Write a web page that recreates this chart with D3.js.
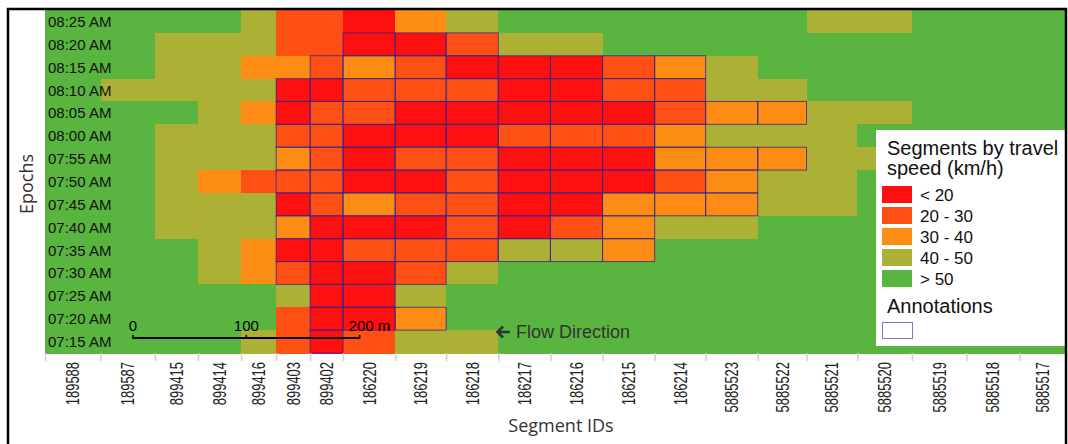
<!DOCTYPE html>
<html>
<head>
<meta charset="utf-8">
<script src="https://cdn.jsdelivr.net/npm/d3@7"></script>
<style>
  html, body { margin: 0; padding: 0; background: #fff; }
  svg { display: block; }
</style>
</head>
<body>
<svg id="chart" width="1068" height="444"></svg>
<script>
// Road segments along the corridor (upstream on the left), with their lengths in metres
const segmentIds = ["189588","189587","899415","899414","899416","899403","899402","186220",
  "186219","186218","186217","186216","186215","186214","5885523","5885522","5885521",
  "5885520","5885519","5885518","5885517"];
const segmentLengths = [49, 48, 38, 38, 31, 30, 29, 46, 45, 46, 46, 46, 46, 45, 46, 43, 45, 48, 48, 47, 41];

// Five-minute epochs, listed from the latest (top row) to the earliest
const epochs = ["08:25 AM","08:20 AM","08:15 AM","08:10 AM","08:05 AM","08:00 AM","07:55 AM",
  "07:50 AM","07:45 AM","07:40 AM","07:35 AM","07:30 AM","07:25 AM","07:20 AM","07:15 AM"];

// Speed bands (index used in the class grid below)
const speedBands = ["< 20", "20 - 30", "30 - 40", "40 - 50", "> 50"];

// Speed band per epoch (rows, same order as epochs) and segment (columns)
const speedClass = [
  [4,4,4,4,3,1,1,0,2,3,4,4,4,4,4,4,3,3,4,4,4],
  [4,4,3,3,3,1,1,0,0,1,3,3,4,4,4,4,4,4,4,4,4],
  [4,4,3,3,2,2,1,2,1,0,0,0,1,2,3,4,4,4,4,4,4],
  [4,3,3,3,3,0,0,1,1,1,0,0,1,1,3,3,4,4,4,4,4],
  [4,4,4,3,2,0,1,1,0,0,0,0,0,1,2,2,3,3,4,4,4],
  [4,4,3,3,3,1,1,0,0,0,1,1,1,2,3,3,3,4,4,4,4],
  [4,4,3,3,3,2,1,0,1,1,0,0,0,2,2,2,3,3,4,4,4],
  [4,4,3,2,1,1,1,0,0,1,0,0,0,1,2,3,3,4,4,4,4],
  [4,4,3,3,3,0,1,2,1,1,0,0,2,2,2,3,3,4,4,4,4],
  [4,4,3,3,3,2,0,0,0,1,0,1,2,3,3,4,4,4,4,4,4],
  [4,4,4,3,2,0,0,1,1,1,3,3,2,4,4,4,4,4,4,4,4],
  [4,4,4,3,2,1,0,0,1,3,4,4,4,4,4,4,4,4,4,4,4],
  [4,4,4,4,4,3,0,0,3,4,4,4,4,4,4,4,4,4,4,4,4],
  [4,4,4,4,4,1,0,0,2,4,4,4,4,4,4,4,4,4,4,4,4],
  [4,4,4,4,3,1,0,1,3,3,4,4,4,4,4,4,4,4,4,4,4]
];

// Annotated congestion cells: [epoch, first segment, last segment]
const annotations = [
  ["08:20 AM", "186220", "186218"],
  ["08:15 AM", "899402", "186214"],
  ["08:10 AM", "899403", "186214"],
  ["08:05 AM", "899403", "5885522"],
  ["08:00 AM", "899403", "186214"],
  ["07:55 AM", "899403", "5885522"],
  ["07:50 AM", "899403", "5885523"],
  ["07:45 AM", "899403", "5885523"],
  ["07:40 AM", "899403", "186215"],
  ["07:35 AM", "899403", "186215"],
  ["07:30 AM", "899403", "186219"],
  ["07:25 AM", "899402", "186220"],
  ["07:20 AM", "899402", "186219"],
  ["07:15 AM", "899402", "899402"]
];

// Scale bar ticks (metres)
const scaleBarTicks = [0, 100, 200];

const bandColors = ["#fe0f10", "#fe4f14", "#fd8c15", "#acb035", "#5ab440"];
const annotationStroke = "#35248e";

const svg = d3.select("#chart");
const plot = { left: 45, right: 1066, top: 10, bottom: 353 };

// Cumulative distance along the corridor drives the column positions
const edges = [0, ...d3.cumsum(segmentLengths)];
const total = edges[edges.length - 1];
const x = d3.scaleLinear().domain([0, total]).range([plot.left, plot.right]);
const y = d3.scaleBand().domain(epochs).range([plot.top, plot.bottom]);
const color = d3.scaleOrdinal().domain(d3.range(speedBands.length)).range(bandColors);

const cells = [];
epochs.forEach((ep, r) => {
  segmentIds.forEach((id, c) => {
    cells.push({ ep, c, band: speedClass[r][c] });
  });
});

// Heatmap cells
svg.append("g")
  .selectAll("rect")
  .data(cells)
  .join("rect")
  .attr("x", d => x(edges[d.c]))
  .attr("y", d => y(d.ep))
  .attr("width", d => x(edges[d.c + 1]) - x(edges[d.c]) + 0.5)
  .attr("height", y.bandwidth() + 0.5)
  .attr("fill", d => color(d.band))
  .attr("shape-rendering", "crispEdges");

// Annotation outlines
const annotatedCells = [];
annotations.forEach(([ep, a, b]) => {
  const i0 = segmentIds.indexOf(a), i1 = segmentIds.indexOf(b);
  for (let c = i0; c <= i1; c++) annotatedCells.push({ ep, c });
});
svg.append("g")
  .selectAll("rect")
  .data(annotatedCells)
  .join("rect")
  .attr("x", d => x(edges[d.c]))
  .attr("y", d => y(d.ep))
  .attr("width", d => x(edges[d.c + 1]) - x(edges[d.c]))
  .attr("height", y.bandwidth())
  .attr("fill", "none")
  .attr("stroke", annotationStroke)
  .attr("stroke-opacity", 0.8)
  .attr("stroke-width", 1);

// Epoch labels drawn inside the heatmap
svg.append("g")
  .selectAll("text")
  .data(epochs)
  .join("text")
  .attr("x", plot.left + 3)
  .attr("y", d => y(d) + y.bandwidth() / 2 + 5.5)
  .attr("font-family", "Liberation Sans, Arial, sans-serif")
  .attr("font-size", 15)
  .attr("fill", "#111")
  .text(d => d);

// Segment axis: ticks at segment boundaries, ids at segment centres
const xAxis = d3.axisBottom(x).tickValues(edges).tickFormat("").tickSize(8).tickSizeOuter(0);
const gx = svg.append("g").attr("transform", `translate(0,${plot.bottom})`).call(xAxis);
gx.select(".domain").remove();
gx.selectAll(".tick line").attr("stroke", "#cfcfcf").attr("stroke-width", 1.5);

svg.append("g")
  .selectAll("text")
  .data(segmentIds)
  .join("text")
  .attr("transform", (d, i) => {
    const cx = x((edges[i] + edges[i + 1]) / 2);
    return `translate(${cx + 6.5},${plot.bottom + 9}) rotate(-90) scale(0.72,1)`;
  })
  .attr("text-anchor", "end")
  .attr("font-family", "Liberation Sans, Arial, sans-serif")
  .attr("font-size", 18)
  .attr("fill", "#222")
  .text(d => d);

// Axis titles
svg.append("text")
  .attr("x", 561).attr("y", 432)
  .attr("text-anchor", "middle")
  .attr("font-family", "Open Sans, sans-serif")
  .attr("font-size", 18)
  .attr("fill", "#333")
  .text("Segment IDs");

svg.append("text")
  .attr("transform", "translate(33,184) rotate(-90)")
  .attr("text-anchor", "middle")
  .attr("font-family", "Open Sans, sans-serif")
  .attr("font-size", 18)
  .attr("fill", "#333")
  .text("Epochs");

// Distance scale bar (same metres-to-pixels ratio as the columns)
const sb = d3.scaleLinear().domain([0, 200]).range([133, 133 + (x(200) - x(0))]);
const sbY = 338;
const gs = svg.append("g");
gs.append("line")
  .attr("x1", sb(0)).attr("x2", sb(200))
  .attr("y1", sbY).attr("y2", sbY)
  .attr("stroke", "#000").attr("stroke-width", 2);
gs.selectAll("line.tk")
  .data(scaleBarTicks)
  .join("line")
  .attr("class", "tk")
  .attr("x1", d => sb(d)).attr("x2", d => sb(d))
  .attr("y1", sbY - 3).attr("y2", sbY + 1)
  .attr("stroke", "#000").attr("stroke-width", 1.5);
gs.selectAll("text")
  .data(scaleBarTicks)
  .join("text")
  .attr("x", d => d === 200 ? sb(d) - 11 : sb(d))
  .attr("y", 331)
  .attr("text-anchor", d => d === 200 ? "start" : "middle")
  .attr("font-family", "Liberation Sans, Arial, sans-serif")
  .attr("font-size", 15)
  .attr("fill", "#000")
  .text(d => d === 200 ? "200 m" : d);

// Flow direction note
const fd = svg.append("g").attr("fill", "#333").attr("stroke", "#333");
fd.append("path")
  .attr("d", "M510,332 L498,332 M503,326.5 L497.5,332 L503,337.5")
  .attr("fill", "none")
  .attr("stroke-width", 2.6)
  .attr("stroke-linecap", "butt");
fd.append("text")
  .attr("x", 516).attr("y", 338)
  .attr("stroke", "none")
  .attr("font-family", "Liberation Sans, Arial, sans-serif")
  .attr("font-size", 18)
  .text("Flow Direction");

// Legend
const lg = svg.append("g");
lg.append("rect")
  .attr("x", 876).attr("y", 130).attr("width", 190).attr("height", 216)
  .attr("fill", "#fff");
lg.append("text")
  .attr("font-family", "Liberation Sans, Arial, sans-serif")
  .attr("font-size", 20).attr("fill", "#111")
  .selectAll("tspan")
  .data(["Segments by travel", "speed (km/h)"])
  .join("tspan")
  .attr("x", 887)
  .attr("y", (d, i) => 155 + i * 20)
  .text(d => d);
const li = lg.selectAll("g.item")
  .data(speedBands)
  .join("g")
  .attr("class", "item")
  .attr("transform", (d, i) => `translate(882,${186 + i * 21})`);
li.append("rect")
  .attr("width", 30).attr("height", 17)
  .attr("fill", (d, i) => color(i));
li.append("text")
  .attr("x", 38).attr("y", 14.5)
  .attr("font-family", "Liberation Sans, Arial, sans-serif")
  .attr("font-size", 17).attr("fill", "#111")
  .text(d => d);
lg.append("text")
  .attr("x", 887).attr("y", 313)
  .attr("font-family", "Liberation Sans, Arial, sans-serif")
  .attr("font-size", 20).attr("fill", "#111")
  .text("Annotations");
lg.append("rect")
  .attr("x", 882.5).attr("y", 322.5).attr("width", 30).attr("height", 16)
  .attr("fill", "#fff").attr("stroke", "#7777d4").attr("stroke-width", 1);

// Frame
svg.append("rect")
  .attr("x", 8).attr("y", 9).attr("width", 1058).attr("height", 445)
  .attr("fill", "none").attr("stroke", "#000").attr("stroke-width", 2.5);
</script>
</body>
</html>
